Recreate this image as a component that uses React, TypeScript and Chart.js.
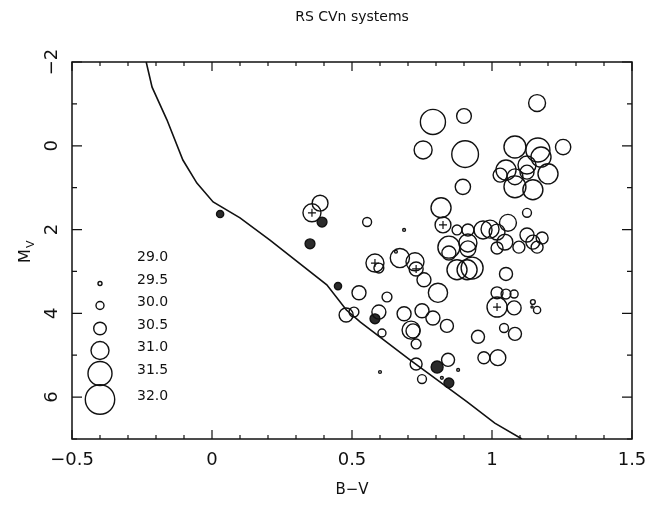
import React, { useEffect, useRef } from "react";
import { Chart, registerables } from "chart.js";

Chart.register(...registerables);

// ---------- text ----------
const TITLE = "RS CVn systems";
const X_TITLE = "B−V";
const Y_TITLE_MAIN = "M";
const Y_TITLE_SUB = "V";

// ---------- axes ----------
const X_MIN = -0.5;
const X_MAX = 1.5;
const Y_MIN = -2;
const Y_MAX = 7;
const Y_LABELS = [-2, 0, 2, 4, 6];

// ---------- main sequence line ----------
const MS_BV = [-0.235, -0.214, -0.161, -0.104, -0.054, 0.004, 0.1, 0.207, 0.41, 0.48, 0.53, 0.707, 0.91, 1.01, 1.107];
const MS_MV = [-2.0, -1.4, -0.62, 0.34, 0.89, 1.34, 1.72, 2.25, 3.32, 3.92, 4.21, 5.11, 6.11, 6.62, 7.0];

// ---------- open circles (B-V, M_V, log Lx) ----------
const OPEN_BV = [
  1.161, 0.789, 0.9, 0.754, 0.904, 0.896, 0.818, 1.254,
  1.082, 1.164, 1.175, 1.125, 1.05, 1.029, 1.082, 1.125, 1.2, 1.082, 1.146,
  0.825, 0.686, 1.125, 0.875, 0.914, 0.968, 0.993, 1.018, 1.057,
  0.846, 0.846, 0.914, 0.914, 1.018, 1.046, 1.096, 1.125, 1.146, 1.179, 1.161,
  0.582, 0.596, 0.671, 0.657, 0.725, 0.729, 0.757, 0.875, 0.929, 0.911,
  0.807, 0.625, 0.525, 1.05, 1.018, 1.05, 1.079, 1.018, 1.079, 1.146, 1.161, 1.143,
  0.596, 0.607, 0.686, 0.75, 0.789, 0.839, 0.711, 0.718, 0.729, 0.729, 0.843,
  0.75, 0.821, 0.879, 0.6, 0.95, 1.043, 1.082, 0.971, 1.021,
  0.479, 0.507, 0.554, 0.357, 0.386,
];
const OPEN_MV = [
  -1.02, -0.57, -0.71, 0.1, 0.2, 0.98, 1.48, 0.03,
  0.03, 0.1, 0.27, 0.46, 0.58, 0.7, 0.74, 0.63, 0.67, 0.98, 1.05,
  1.89, 2.01, 1.6, 2.01, 2.01, 2.01, 1.99, 2.06, 1.84,
  2.42, 2.56, 2.32, 2.46, 2.44, 2.3, 2.42, 2.13, 2.3, 2.2, 2.42,
  2.8, 2.92, 2.68, 2.53, 2.77, 2.94, 3.2, 2.96, 2.92, 2.96,
  3.51, 3.61, 3.51, 3.06, 3.51, 3.54, 3.54, 3.85, 3.87, 3.73, 3.92, 3.85,
  3.97, 4.47, 4.01, 3.94, 4.11, 4.3, 4.4, 4.42, 4.73, 5.21, 5.11,
  5.57, 5.54, 5.35, 5.4, 4.56, 4.35, 4.49, 5.06, 5.06,
  4.04, 3.97, 1.82, 1.6, 1.37,
];
const OPEN_LX = [
  30.9, 31.6, 30.7, 31.0, 31.75, 30.75, 31.17, 30.75,
  31.33, 31.5, 31.17, 31.0, 31.17, 30.63, 30.8, 30.63, 31.17, 31.33, 31.17,
  30.8, 29.3, 30.1, 30.2, 30.43, 31.0, 31.0, 30.8, 30.9,
  31.33, 30.63, 31.0, 30.8, 30.43, 30.8, 30.43, 30.63, 30.63, 30.43, 30.43,
  31.0, 30.2, 31.1, 29.3, 31.0, 30.63, 30.63, 31.17, 31.33, 31.17,
  31.1, 30.2, 30.63, 30.54, 30.43, 30.2, 30.0, 31.17, 30.63, 29.6, 29.9, 29.2,
  30.63, 30.0, 30.63, 30.63, 30.63, 30.54, 31.0, 30.63, 30.2, 30.43, 30.54,
  30.1, 29.3, 29.3, 29.3, 30.54, 30.1, 30.54, 30.43, 30.8,
  30.63, 30.2, 30.1, 31.0, 30.8,
];

// ---------- filled circles ----------
const FILLED_BV = [0.029, 0.393, 0.35, 0.45, 0.582, 0.804, 0.846];
const FILLED_MV = [1.63, 1.82, 2.34, 3.35, 4.13, 5.28, 5.66];
const FILLED_LX = [29.9, 30.2, 30.2, 29.9, 30.2, 30.43, 30.2];

// ---------- "+" marks ----------
const CROSS_BV = [0.357, 0.582, 0.729, 0.825, 1.018];
const CROSS_MV = [1.6, 2.8, 2.94, 1.89, 3.85];

// ---------- size legend ----------
const LEGEND_LX = [29.0, 29.5, 30.0, 30.5, 31.0, 31.5, 32.0];
const LEGEND_R = [0.5, 2, 4, 6.3, 9, 12, 14.7];

const INK = "#111";
const FONT = "'DejaVu Sans', 'Liberation Sans', sans-serif";

function radiusFor(lx: number): number {
  if (lx <= LEGEND_LX[0]) return LEGEND_R[0];
  for (let i = 1; i < LEGEND_LX.length; i++) {
    if (lx <= LEGEND_LX[i]) {
      const t = (lx - LEGEND_LX[i - 1]) / (LEGEND_LX[i] - LEGEND_LX[i - 1]);
      return LEGEND_R[i - 1] + t * (LEGEND_R[i] - LEGEND_R[i - 1]);
    }
  }
  return LEGEND_R[LEGEND_R.length - 1];
}

function fmt(v: number): string {
  const r = Math.round(v * 10) / 10;
  if (Math.abs(r) < 1e-9) return "0";
  return String(r).replace("-", "−");
}

const decor = {
  id: "decor",
  afterDraw(chart: any) {
    const { ctx, chartArea: a, scales } = chart;
    const xs = scales.x;
    const ys = scales.y;
    ctx.save();
    // frame
    ctx.strokeStyle = INK;
    ctx.lineWidth = 1.5;
    ctx.strokeRect(a.left, a.top, a.right - a.left, a.bottom - a.top);
    // inward ticks
    ctx.lineWidth = 1.2;
    ctx.beginPath();
    for (let k = -5; k <= 15; k++) {
      const px = xs.getPixelForValue(k / 10);
      const len = k % 5 === 0 ? 9 : 4;
      ctx.moveTo(px, a.bottom);
      ctx.lineTo(px, a.bottom - len);
      ctx.moveTo(px, a.top);
      ctx.lineTo(px, a.top + len);
    }
    for (let m = Y_MIN; m <= Y_MAX; m++) {
      const py = ys.getPixelForValue(m);
      const len = m % 2 === 0 ? 10 : 5;
      ctx.moveTo(a.left, py);
      ctx.lineTo(a.left + len, py);
      ctx.moveTo(a.right, py);
      ctx.lineTo(a.right - len, py);
    }
    ctx.stroke();

    ctx.fillStyle = INK;
    // y tick labels, parallel to the axis
    ctx.font = `18px ${FONT}`;
    ctx.textAlign = "center";
    ctx.textBaseline = "middle";
    for (const m of Y_LABELS) {
      const py = ys.getPixelForValue(m);
      ctx.save();
      ctx.translate(a.left - 20, py);
      ctx.rotate(-Math.PI / 2);
      ctx.fillText(fmt(m), 0, 0);
      ctx.restore();
    }

    // title & axis titles
    ctx.font = `14px ${FONT}`;
    const cx = (a.left + a.right) / 2;
    ctx.fillText(TITLE, cx, 17);
    ctx.font = `15px ${FONT}`;
    ctx.fillText(X_TITLE, cx, 490);

    ctx.save();
    ctx.translate(24, 252);
    ctx.rotate(-Math.PI / 2);
    ctx.textAlign = "left";
    ctx.textBaseline = "alphabetic";
    ctx.font = `16px ${FONT}`;
    const mw = ctx.measureText(Y_TITLE_MAIN).width;
    ctx.fillText(Y_TITLE_MAIN, -mw / 2 - 4, 6);
    ctx.font = `11px ${FONT}`;
    ctx.fillText(Y_TITLE_SUB, mw / 2 - 3, 10);
    ctx.restore();

    // size legend
    const labelDy = [195, 218, 240, 263, 285, 308, 334];
    ctx.font = `14px ${FONT}`;
    ctx.textAlign = "left";
    ctx.textBaseline = "middle";
    ctx.lineWidth = 1.4;
    for (let i = 0; i < LEGEND_LX.length; i++) {
      const ly = a.top + labelDy[i];
      ctx.fillText(LEGEND_LX[i].toFixed(1), a.left + 65, ly);
      const r = radiusFor(LEGEND_LX[i]);
      if (r >= 1) {
        ctx.beginPath();
        ctx.arc(a.left + 28, ly + 3.5, r, 0, Math.PI * 2);
        ctx.stroke();
      }
    }
    ctx.restore();
  },
};

export default function App() {
  const ref = useRef<HTMLCanvasElement | null>(null);

  useEffect(() => {
    if (!ref.current) return;
    const msData = MS_BV.map((x, i) => ({ x, y: MS_MV[i] }));
    const openData = OPEN_BV.map((x, i) => ({ x, y: OPEN_MV[i], r: radiusFor(OPEN_LX[i]) }));
    const filledData = FILLED_BV.map((x, i) => ({ x, y: FILLED_MV[i], r: radiusFor(FILLED_LX[i]) }));
    const crossData = CROSS_BV.map((x, i) => ({ x, y: CROSS_MV[i] }));

    const chart = new Chart(ref.current, {
      type: "bubble",
      data: {
        datasets: [
          {
            type: "line",
            data: msData,
            borderColor: INK,
            borderWidth: 1.6,
            pointRadius: 0,
            fill: false,
            tension: 0,
          } as any,
          {
            type: "bubble",
            data: openData,
            backgroundColor: "rgba(0,0,0,0)",
            borderColor: INK,
            borderWidth: 1.4,
            hoverRadius: 0,
          } as any,
          {
            type: "bubble",
            data: filledData,
            backgroundColor: "#2b2b2b",
            borderColor: INK,
            borderWidth: 1.4,
            hoverRadius: 0,
          } as any,
          {
            type: "scatter",
            data: crossData,
            pointStyle: "cross",
            pointRadius: 4,
            borderColor: INK,
            borderWidth: 1.2,
          } as any,
        ],
      },
      options: {
        responsive: false,
        animation: false,
        events: [],
        layout: { autoPadding: false, padding: { top: 62, right: 32, left: 0, bottom: 0 } },
        plugins: { legend: { display: false }, tooltip: { enabled: false }, title: { display: false } },
        scales: {
          x: {
            type: "linear",
            min: X_MIN,
            max: X_MAX,
            grid: { display: false, drawTicks: false },
            border: { display: false },
            ticks: {
              stepSize: 0.5,
              padding: 11,
              color: INK,
              font: { family: FONT, size: 18 },
              callback: (v: any) => fmt(Number(v)),
            },
            afterFit: (s: any) => {
              s.height = 68;
            },
          },
          y: {
            type: "linear",
            reverse: true,
            min: Y_MIN,
            max: Y_MAX,
            grid: { display: false, drawTicks: false },
            border: { display: false },
            ticks: { display: false, stepSize: 1 },
            afterFit: (s: any) => {
              s.width = 72;
            },
          },
        },
      } as any,
      plugins: [decor],
    });
    return () => chart.destroy();
  }, []);

  return (
    <div style={{ position: "absolute", left: 0, top: 0, width: 664, height: 507, background: "#fff" }}>
      <canvas ref={ref} width={664} height={507} style={{ display: "block" }} />
    </div>
  );
}
